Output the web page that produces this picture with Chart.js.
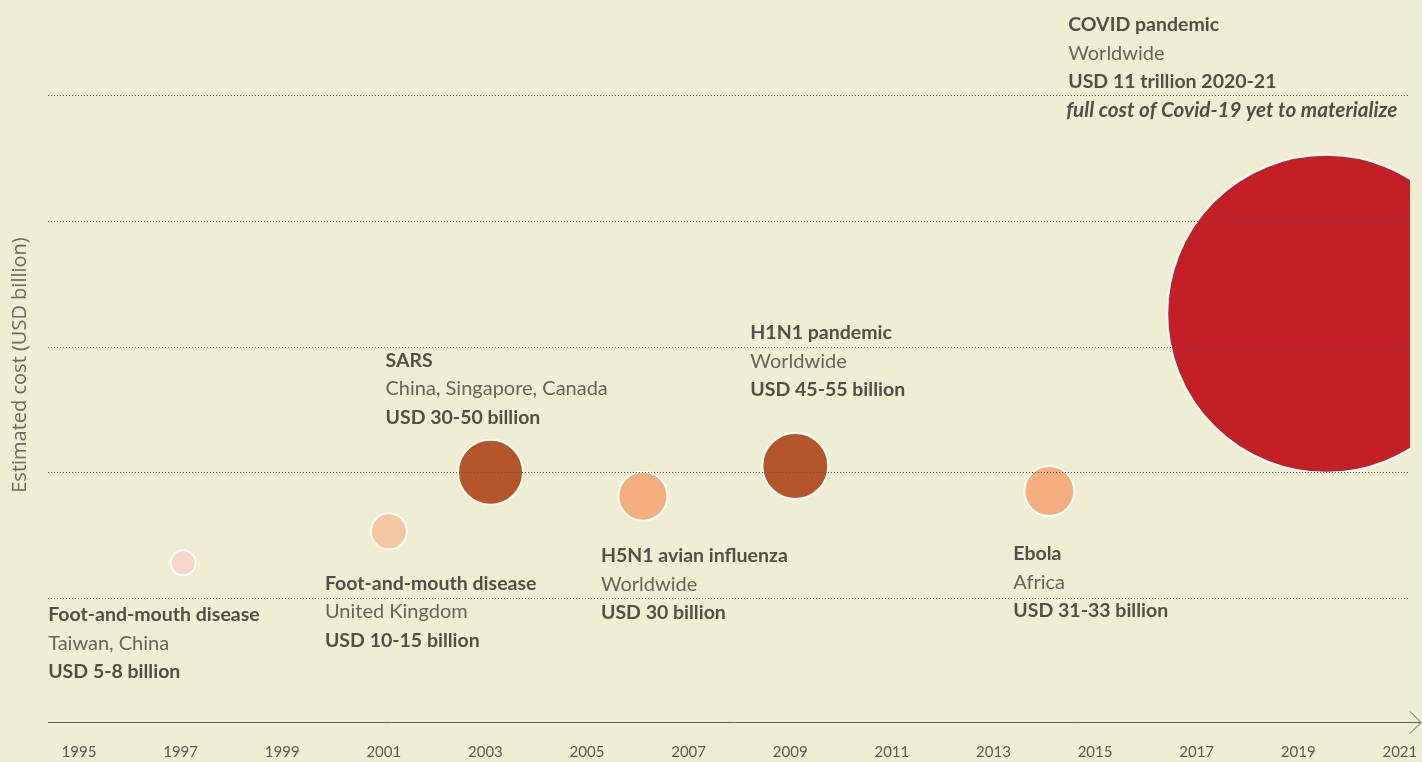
<!DOCTYPE html>
<html>
<head>
<meta charset="utf-8">
<script src="https://cdn.jsdelivr.net/npm/chart.js@4/dist/chart.umd.min.js"></script>
<style>
  html, body { margin: 0; padding: 0; background: #eeeed2; overflow: hidden; }
  #wrap { width: 1422px; height: 762px; position: relative; }
</style>
</head>
<body>
<div id="wrap"><canvas id="chart"></canvas></div>
<script>
// events
const eventYears = [1997.05, 2001.1, 2003.1, 2006.1, 2009.1, 2014.1, 2019.55];
const costLevel = [1.28, 1.53, 2.0, 1.81, 2.05, 1.85, 3.26];
const bubbleSize = [12.5, 18, 32.5, 24.5, 33, 25, 159];
const bubbleColors = ['#f9d6cc', '#f4c7a3', '#b5552a', '#f5ae7e', '#b5552a', '#f5ae7e', '#c21f26'];

const titles = ['Foot-and-mouth disease', 'Foot-and-mouth disease', 'SARS', 'H5N1 avian influenza',
                'H1N1 pandemic', 'Ebola', 'COVID pandemic'];
const places = ['Taiwan, China', 'United Kingdom', 'China, Singapore, Canada', 'Worldwide',
                'Worldwide', 'Africa', 'Worldwide'];
const costs = ['USD 5-8 billion', 'USD 10-15 billion', 'USD 30-50 billion', 'USD 30 billion',
               'USD 45-55 billion', 'USD 31-33 billion', 'USD 11 trillion 2020-21'];
const notes = ['', '', '', '', '', '', 'full cost of Covid-19 yet to materialize'];

const tickYears = [1995, 1997, 1999, 2001, 2003, 2005, 2007, 2009, 2011, 2013, 2015, 2017, 2019, 2021];
const gridLevels = [1, 2, 3, 4, 5];

// label placement relative to each bubble (px)
const labelOffset = [[-135, 52], [-64, 52], [-105, -112], [-42, 60], [-45, -133], [-36, 63], [-258, -289]];

const points = eventYears.map((x, i) => ({ x: x, y: costLevel[i], r: bubbleSize[i] }));

const overlay = {
  id: 'overlay',
  afterDatasetsDraw(chart) {
    const ctx = chart.ctx;
    const x = chart.scales.x;
    const y = chart.scales.y;
    const left = Math.round(x.getPixelForValue(x.min));
    const right = Math.round(x.getPixelForValue(x.max));
    const bottom = Math.round(y.getPixelForValue(y.min));
    ctx.save();
    // cut the big bubble at the plot edge
    ctx.fillStyle = '#eeeed2';
    ctx.fillRect(right + 1, Math.round(y.getPixelForValue(y.max)) + 2, 40, bottom - 120);
    // dotted grid drawn over the bubbles
    ctx.strokeStyle = '#55554c';
    ctx.lineWidth = 1;
    ctx.setLineDash([1, 2]);
    gridLevels.forEach(v => {
      const py = Math.round(y.getPixelForValue(v)) + 0.5;
      ctx.beginPath();
      ctx.moveTo(left, py);
      ctx.lineTo(right, py);
      ctx.stroke();
    });
    // time axis with arrow
    ctx.setLineDash([]);
    ctx.strokeStyle = '#5e5e55';
    const ay = bottom + 0.5;
    ctx.beginPath();
    ctx.moveTo(left, ay);
    ctx.lineTo(1421, ay);
    ctx.stroke();
    ctx.beginPath();
    ctx.moveTo(1410, ay - 11);
    ctx.lineTo(1421, ay);
    ctx.lineTo(1410, ay + 11);
    ctx.stroke();
    ctx.restore();
  },
  afterDraw(chart) {
    const ctx = chart.ctx;
    const meta = chart.getDatasetMeta(0);
    ctx.save();
    ctx.textBaseline = 'middle';
    ctx.textAlign = 'left';
    meta.data.forEach((el, i) => {
      const lx = el.x + labelOffset[i][0];
      let ly = el.y + labelOffset[i][1];
      const step = 28.5;
      ctx.fillStyle = '#505049';
      ctx.font = 'bold 19.5px Lato';
      ctx.fillText(titles[i], lx, ly);
      ly += step;
      ctx.fillStyle = '#65655b';
      ctx.font = '20px Lato';
      ctx.fillText(places[i], lx, ly);
      ly += step;
      ctx.fillStyle = '#505049';
      ctx.font = 'bold 19.5px Lato';
      ctx.fillText(costs[i], lx, ly);
      if (notes[i]) {
        ly += step;
        ctx.font = 'italic bold 20.7px Lato';
        ctx.fillText(notes[i], lx - 2, ly);
      }
    });
    // y axis title
    ctx.translate(20, 365);
    ctx.rotate(-Math.PI / 2);
    ctx.textAlign = 'center';
    ctx.fillStyle = '#6a6a60';
    ctx.font = '20px "Open Sans"';
    ctx.fillText('Estimated cost (USD billion)', 0, 0);
    ctx.restore();
  }
};

new Chart(document.getElementById('chart'), {
  type: 'bubble',
  data: {
    datasets: [{
      data: points,
      backgroundColor: bubbleColors,
      borderColor: '#ffffff',
      borderWidth: 2,
      hoverBorderWidth: 2,
      clip: false
    }]
  },
  options: {
    responsive: true,
    maintainAspectRatio: false,
    animation: false,
    layout: { autoPadding: false, padding: { left: 48, right: 13, top: 95, bottom: 0 } },
    plugins: {
      legend: { display: false },
      tooltip: { enabled: false }
    },
    scales: {
      x: {
        type: 'linear',
        min: 1994.39,
        max: 2021.18,
        grid: { display: false },
        border: { display: false },
        afterBuildTicks: scale => { scale.ticks = tickYears.map(v => ({ value: v })); },
        afterFit: scale => {
          scale.height = 40;
          scale.paddingLeft = 0;
          scale.paddingRight = 0;
        },
        ticks: {
          padding: 13,
          maxRotation: 0,
          autoSkip: false,
          color: '#5a5a52',
          font: { family: 'Lato', size: 15 },
          callback: v => String(v)
        }
      },
      y: {
        display: false,
        min: 0.014,
        max: 5
      }
    }
  },
  plugins: [overlay]
});
</script>
</body>
</html>
